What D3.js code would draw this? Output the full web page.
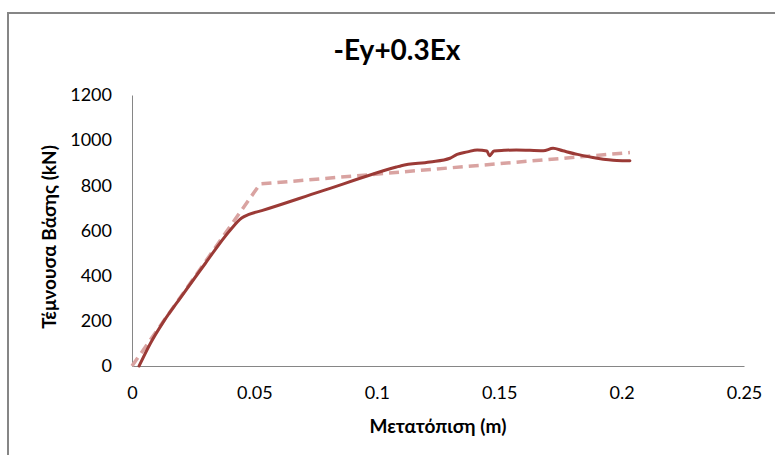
<!DOCTYPE html>
<html>
<head>
<meta charset="utf-8">
<script src="https://cdn.jsdelivr.net/npm/d3@7"></script>
<style>
html,body{margin:0;padding:0;background:#fff;}
svg{display:block;font-family:Lato,"Open Sans",sans-serif;}
</style>
</head>
<body>
<svg id="chart" width="775" height="455"></svg>
<script>
const title = "-Ey+0.3Ex";
const xLabel = "Μετατόπιση (m)";
const yLabel = "Τέμνουσα Βάσης (kN)";
const xTicks = [0, 0.05, 0.1, 0.15, 0.2, 0.25];
const yTicks = [0, 200, 400, 600, 800, 1000, 1200];

// Capacity curve (solid)
const curveX = [0.0029, 0.0075, 0.0125, 0.0200, 0.0300, 0.0400, 0.0448, 0.0475, 0.0530, 0.0768, 0.1080, 0.1100, 0.1217, 0.1299, 0.1328, 0.1370, 0.1410, 0.1450, 0.1460, 0.1479, 0.1520, 0.1570, 0.1680, 0.1720, 0.1760, 0.1820, 0.1900, 0.1980, 0.2034];
const curveY = [0, 100, 190, 305, 455, 600, 655, 670, 688, 772, 881, 887, 903, 920, 937, 948, 957, 952, 931, 952, 955, 957, 953, 964, 953, 937, 920, 910, 909];

// Bilinear idealisation (dashed)
const bilinX = [0, 0.0523, 0.2034];
const bilinY = [0, 806, 945];

const svg = d3.select("#chart");

// outer frame
svg.append("rect").attr("x", 8).attr("y", 13).attr("width", 800).attr("height", 500)
  .attr("fill", "none").attr("stroke", "#868686").attr("stroke-width", 2);

const x = d3.scaleLinear().domain([0, 0.25]).range([132, 744]);
const y = d3.scaleLinear().domain([0, 1200]).range([366, 95]);

// axes
const xAxis = svg.append("g").attr("transform", "translate(0,366)")
  .call(d3.axisBottom(x).tickValues(xTicks).tickSize(0).tickPadding(20).tickFormat(d => String(d)));
const yAxis = svg.append("g").attr("transform", "translate(132,0)")
  .call(d3.axisLeft(y).tickValues(yTicks).tickSize(0).tickPadding(20).tickFormat(d => String(d)));
[xAxis, yAxis].forEach(g => {
  g.select(".domain").attr("stroke", "#868686").attr("stroke-width", 1);
  g.selectAll("text").attr("fill", "#000").style("font-size", "18px").style("font-family", "Lato, 'Open Sans', sans-serif");
});

const line = d3.line().x(d => x(d[0])).y(d => y(d[1]));

svg.append("path")
  .datum(bilinX.map((v, i) => [v, bilinY[i]]))
  .attr("d", line).attr("fill", "none")
  .attr("stroke", "#D9A3A1").attr("stroke-width", 3.5)
  .attr("stroke-dasharray", "10,6");

svg.append("path")
  .datum(curveX.map((v, i) => [v, curveY[i]]))
  .attr("d", d3.line().x(d => x(d[0])).y(d => y(d[1])).curve(d3.curveMonotoneX)).attr("fill", "none")
  .attr("stroke", "#9B3A36").attr("stroke-width", 3)
  .attr("stroke-linejoin", "round").attr("stroke-linecap", "round");

// titles
svg.append("text").attr("x", 397).attr("y", 60).attr("text-anchor", "middle")
  .style("font-size", "28px").style("font-weight", "bold").attr("fill", "#000").text(title);
svg.append("text").attr("x", 438).attr("y", 433).attr("text-anchor", "middle")
  .style("font-size", "19px").style("font-weight", "bold").attr("fill", "#000").text(xLabel);
svg.append("text").attr("transform", "translate(56,237) rotate(-90)").attr("text-anchor", "middle")
  .style("font-size", "19px").style("font-weight", "bold").attr("fill", "#000").text(yLabel);
</script>
</body>
</html>
